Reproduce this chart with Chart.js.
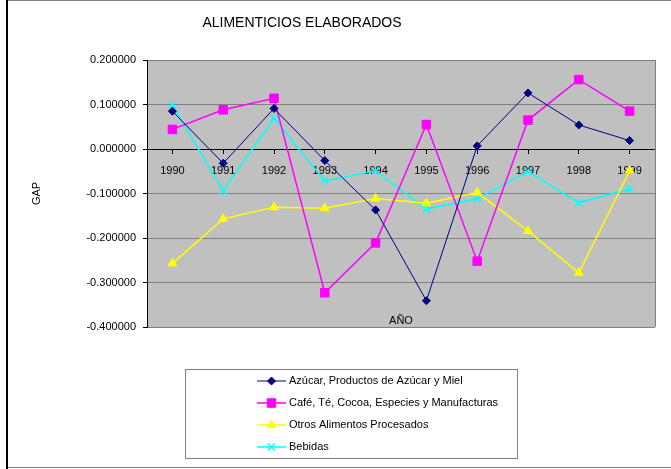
<!DOCTYPE html>
<html lang="es">
<head>
    <meta charset="UTF-8">
    <title>Alimenticios Elaborados</title>
    <script src="https://cdn.jsdelivr.net/npm/chart.js"></script>
    <style>
        html, body {
            margin: 0;
            padding: 0;
            background: #ffffff;
        }
        canvas {
            display: block;
        }
    </style>
</head>
<body>
    <canvas id="gapChart" width="671" height="469"></canvas>

    <script>
        // values
        const years = ['1990', '1991', '1992', '1993', '1994', '1995', '1996', '1997', '1998', '1999'];
        const azucar = [0.085, -0.032, 0.091, -0.026, -0.137, -0.341, 0.007, 0.126, 0.054, 0.019];
        const cafe = [0.044, 0.088, 0.114, -0.323, -0.211, 0.055, -0.252, 0.065, 0.156, 0.085];
        const otros = [-0.257, -0.157, -0.131, -0.133, -0.111, -0.122, -0.098, -0.184, -0.278, -0.049];
        const bebidas = [0.099, -0.094, 0.069, -0.072, -0.049, -0.135, -0.112, -0.051, -0.121, -0.090];

        const yTicks = [-0.4, -0.3, -0.2, -0.1, 0, 0.1, 0.2];

        const chartTitle = 'ALIMENTICIOS ELABORADOS';
        const xTitle = 'AÑO';
        const yTitle = 'GAP';

        const FONT = 'Arial, "Liberation Sans", sans-serif';

        // Excel-like frame, plot background, title and the boxed legend
        const excelLook = {
            id: 'excelLook',
            beforeDraw(chart) {
                const ctx = chart.ctx;
                const a = chart.chartArea;
                ctx.save();
                ctx.fillStyle = '#ffffff';
                ctx.fillRect(0, 0, chart.width, chart.height);
                ctx.fillStyle = '#c0c0c0';
                ctx.fillRect(a.left, a.top, a.right - a.left, a.bottom - a.top);
                ctx.restore();
            },
            afterDraw(chart) {
                const ctx = chart.ctx;
                const a = chart.chartArea;
                ctx.save();

                // outer frame
                ctx.strokeStyle = '#808080';
                ctx.lineWidth = 1;
                ctx.beginPath();
                ctx.moveTo(7, 0.5); ctx.lineTo(chart.width, 0.5);
                ctx.moveTo(7, chart.height - 1.5); ctx.lineTo(chart.width, chart.height - 1.5);
                ctx.stroke();
                ctx.strokeStyle = '#000000';
                ctx.lineWidth = 2;
                ctx.beginPath();
                ctx.moveTo(7, 0); ctx.lineTo(7, chart.height);
                ctx.stroke();

                // right edge of the plot area
                ctx.strokeStyle = '#808080';
                ctx.lineWidth = 1;
                ctx.beginPath();
                ctx.moveTo(Math.round(a.right) + 0.5, a.top);
                ctx.lineTo(Math.round(a.right) + 0.5, a.bottom);
                ctx.stroke();

                // title
                ctx.fillStyle = '#000000';
                ctx.font = '14px ' + FONT;
                ctx.textAlign = 'center';
                ctx.textBaseline = 'middle';
                ctx.fillText(chartTitle, 302, 23);

                // x axis title sits inside the plot
                ctx.font = '11px ' + FONT;
                ctx.fillText(xTitle, (a.left + a.right) / 2, a.bottom - 6);

                // legend box
                const bx = 185, by = 369, bw = 332, bh = 89;
                ctx.fillStyle = '#ffffff';
                ctx.fillRect(bx, by, bw, bh);
                ctx.strokeStyle = '#808080';
                ctx.lineWidth = 1;
                ctx.strokeRect(bx + 0.5, by + 0.5, bw, bh);

                const rowY = [381, 403, 425, 447];
                chart.data.datasets.forEach((ds, i) => {
                    const y = rowY[i];
                    ctx.strokeStyle = ds.borderColor;
                    ctx.lineWidth = ds.borderWidth;
                    ctx.beginPath();
                    ctx.moveTo(257, y);
                    ctx.lineTo(286, y);
                    ctx.stroke();
                    ctx.fillStyle = ds.backgroundColor;
                    ctx.strokeStyle = ds.borderColor;
                    ctx.lineWidth = ds.pointBorderWidth || 1;
                    Chart.helpers.drawPoint(ctx, {
                        pointStyle: ds.pointStyle,
                        radius: ds.pointRadius,
                        rotation: 0,
                        borderWidth: ds.pointBorderWidth || 1
                    }, 271.5, y);
                    ctx.fillStyle = '#000000';
                    ctx.font = '11px ' + FONT;
                    ctx.textAlign = 'left';
                    ctx.textBaseline = 'middle';
                    ctx.fillText(ds.label, 289, y);
                });
                ctx.restore();
            }
        };

        const datasets = [
            {
                label: 'Azúcar, Productos de Azúcar y Miel',
                data: azucar,
                borderColor: '#000080',
                backgroundColor: '#000080',
                borderWidth: 1,
                pointStyle: 'rectRot',
                pointRadius: 4,
                pointBorderWidth: 1
            },
            {
                label: 'Café, Té, Cocoa, Especies y Manufacturas',
                data: cafe,
                borderColor: '#ff00ff',
                backgroundColor: '#ff00ff',
                borderWidth: 1.5,
                pointStyle: 'rect',
                pointRadius: 6,
                pointBorderWidth: 1
            },
            {
                label: 'Otros Alimentos Procesados',
                data: otros,
                borderColor: '#ffff00',
                backgroundColor: '#ffff00',
                borderWidth: 1.5,
                pointStyle: 'triangle',
                pointRadius: 5,
                pointBorderWidth: 1
            },
            {
                label: 'Bebidas',
                data: bebidas,
                borderColor: '#00ffff',
                backgroundColor: '#00ffff',
                borderWidth: 1.5,
                pointStyle: 'crossRot',
                pointRadius: 5,
                pointBorderWidth: 1.5
            }
        ];

        datasets.forEach(ds => {
            ds.tension = 0;
            ds.fill = false;
            ds.pointHoverRadius = ds.pointRadius;
        });

        new Chart(document.getElementById('gapChart'), {
            type: 'line',
            data: { labels: years, datasets: datasets },
            options: {
                responsive: false,
                animation: false,
                events: [],
                layout: {
                    padding: { left: 0, right: 16, top: 60, bottom: 142 }
                },
                plugins: {
                    legend: { display: false },
                    title: { display: false },
                    tooltip: { enabled: false }
                },
                scales: {
                    x: {
                        position: { y: 0 },
                        offset: true,
                        grid: {
                            drawOnChartArea: false,
                            drawTicks: true,
                            tickLength: 4,
                            color: '#000000'
                        },
                        border: { color: '#000000', width: 1 },
                        ticks: {
                            color: '#000000',
                            padding: 11,
                            maxRotation: 0,
                            autoSkip: false,
                            font: { family: FONT, size: 11 }
                        }
                    },
                    y: {
                        min: yTicks[0],
                        max: yTicks[yTicks.length - 1],
                        afterFit(scale) { scale.width = 147; },
                        afterBuildTicks(scale) {
                            scale.ticks = yTicks.map(v => ({ value: v }));
                        },
                        grid: {
                            color: '#808080',
                            tickColor: '#000000',
                            tickLength: 4,
                            lineWidth: 1
                        },
                        border: { color: '#000000', width: 1 },
                        title: {
                            display: true,
                            text: yTitle,
                            color: '#000000',
                            font: { family: FONT, size: 11 },
                            padding: { top: 30, bottom: 0 }
                        },
                        ticks: {
                            color: '#000000',
                            padding: 7,
                            font: { family: FONT, size: 11 },
                            callback: v => Number(v).toFixed(6)
                        }
                    }
                }
            },
            plugins: [excelLook]
        });
    </script>
</body>
</html>
